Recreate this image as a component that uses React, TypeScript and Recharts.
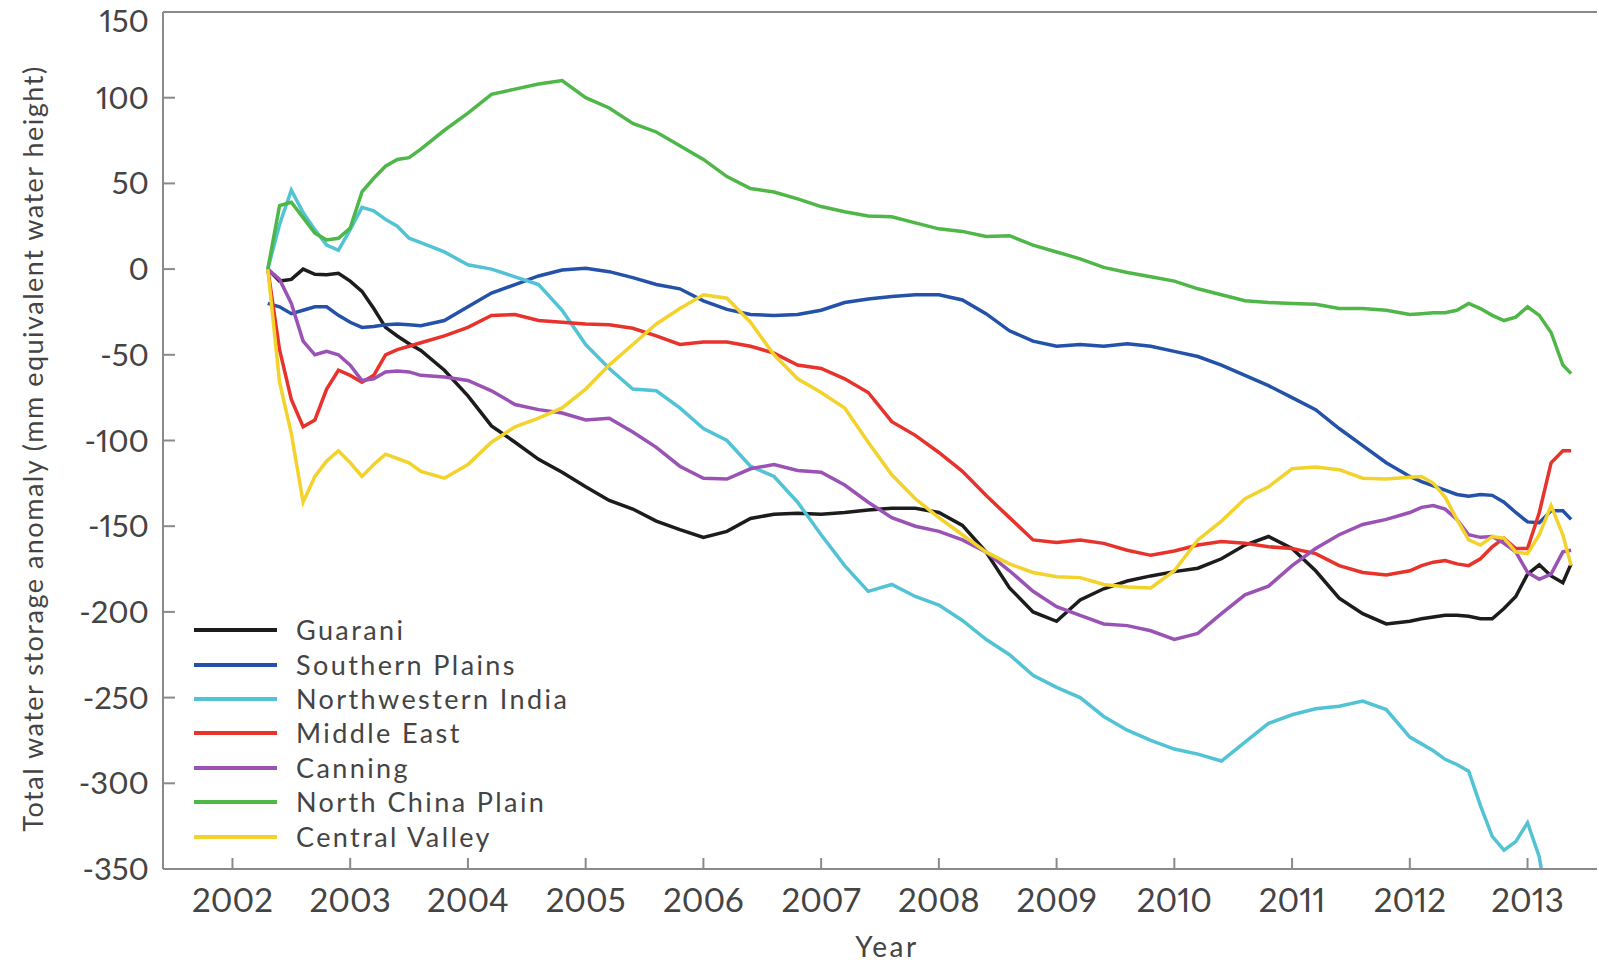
import { LineChart, Line, XAxis, YAxis, ReferenceLine } from "recharts";

// time in decimal years (finer steps where the curves wiggle)
const years = [
  2002.3, 2002.4, 2002.5, 2002.6, 2002.7, 2002.8, 2002.9, 2003.0, 2003.1, 2003.2, 2003.3, 2003.4, 2003.5, 2003.6,
  2003.8, 2004.0, 2004.2, 2004.4, 2004.6, 2004.8,
  2005.0, 2005.2, 2005.4, 2005.6, 2005.8,
  2006.0, 2006.2, 2006.4, 2006.6, 2006.8,
  2007.0, 2007.2, 2007.4, 2007.6, 2007.8,
  2008.0, 2008.2, 2008.4, 2008.6, 2008.8,
  2009.0, 2009.2, 2009.4, 2009.6, 2009.8,
  2010.0, 2010.2, 2010.4, 2010.6, 2010.8,
  2011.0, 2011.2, 2011.4, 2011.6, 2011.8,
  2012.0,
  2012.1, 2012.2, 2012.3, 2012.4, 2012.5, 2012.6, 2012.7, 2012.8, 2012.9, 2013.0, 2013.1, 2013.2, 2013.3, 2013.37,
];

const guarani = [
  0, -7, -6, 0, -3, -3.3, -2.5, -7, -13, -23, -34, -39, -43.5, -47.5,
  -59, -74, -91.5, -101, -111, -118.5,
  -127, -135, -140, -147, -152,
  -156.5, -153, -145.5, -143, -142.5,
  -143, -142, -140.5, -139.5, -139.5,
  -142, -149.5, -165, -186, -200,
  -205.5, -193, -186.5, -182, -179,
  -176.5, -174.5, -169, -161, -156,
  -163, -176, -192, -201, -207,
  -205.5,
  -204, -203, -202, -202, -202.5, -204, -204, -198, -191, -178, -172.5, -179, -183, -172,
];

const southernPlains = [
  -20, -22, -26, -24, -22, -22, -27, -31, -34, -33.5, -32.5, -32, -32.5, -33,
  -30, -22, -14, -9, -4, -0.5,
  0.5, -1.5, -5, -9, -11.5,
  -18.5, -23.5, -26.5, -27, -26.5,
  -24, -19.5, -17.5, -16, -15,
  -15, -18, -26, -36, -42,
  -45, -44, -45, -43.5, -45,
  -48, -51, -56, -62, -68,
  -75, -82, -93, -103, -113,
  -121,
  -124, -126.5, -129, -131.5, -132.5, -131.5, -132, -136, -142, -147.5, -148, -141, -141, -146,
];

const northwesternIndia = [
  0, 26, 46, 33, 23, 14, 11, 23, 36, 34, 29, 25, 18, 15.5,
  10, 2.5, 0, -4.5, -9, -24,
  -44, -58, -70, -71, -81,
  -93, -100, -115, -121, -136,
  -155, -173, -188, -184, -191,
  -196, -205, -216, -225, -237,
  -244, -250, -261, -269, -275,
  -280, -283, -287, -276, -265,
  -260, -256.5, -255, -252, -257,
  -273,
  -277, -281, -286, -289, -293, -313, -331, -339, -334, -323, -343, -385, null, null,
];

const middleEast = [
  0, -47, -76, -92, -88, -70, -59, -62, -66, -62, -50, -47, -45, -43,
  -39, -34, -27, -26.5, -30, -31,
  -32, -32.5, -34.5, -39, -44,
  -42.5, -42.5, -45, -49, -56,
  -58, -64, -72, -89, -97,
  -107, -118, -132, -145, -158,
  -159.5, -158, -160, -164, -167,
  -164.5, -161, -159, -160, -162,
  -163, -166, -173, -177, -178.5,
  -176,
  -173, -171, -170, -172, -173, -169, -162, -157, -163, -163, -142, -113, -106, -106,
];

const canning = [
  0, -6, -20, -42, -50, -48, -50, -56, -65, -64, -60, -59.5, -60, -62,
  -63, -65, -71, -79, -82, -84,
  -88, -87, -95, -104, -115,
  -122, -122.5, -116.5, -114, -117.5,
  -118.5, -126, -136, -145, -150,
  -153, -158, -165, -176, -188,
  -197, -202, -207, -208, -211,
  -216, -212.5, -201, -190, -185,
  -173, -163, -155, -149, -146,
  -142,
  -139, -138, -140, -146, -155, -156.5, -156, -160, -165, -177, -181, -178, -165, -164,
];

const northChinaPlain = [
  0, 37, 39, 30, 21, 17, 18, 24, 45, 53, 60, 64, 65, 70,
  81, 91, 102, 105, 108, 110,
  100, 94, 85, 80, 72,
  64, 54, 47, 45, 41,
  36.5, 33.5, 31, 30.5, 27,
  23.5, 22, 19, 19.5, 14,
  10, 6, 1, -2, -4.5,
  -7, -11.5, -15, -18.5, -19.5,
  -20, -20.5, -23, -23, -24,
  -26.5,
  -26, -25.5, -25.5, -24, -20, -23, -27, -30, -28, -22, -27, -37, -56, -61,
];

const centralValley = [
  0, -66, -96, -136, -121, -112, -106, -113, -121, -114, -108, -110.5, -113, -118,
  -122, -114, -101, -92, -87, -81,
  -70, -56, -44, -32, -23,
  -15, -17, -31, -50, -64,
  -72, -81, -101, -120, -134,
  -145, -155, -165, -172, -177,
  -179.5, -180, -184, -185.5, -186,
  -176, -158, -147, -134, -127,
  -116.5, -115.5, -117, -122, -122.5,
  -121.5,
  -121, -125, -133, -146, -158, -161, -156, -157, -165, -166, -155, -138, -155, -173,
];

const yTicks = [-350, -300, -250, -200, -150, -100, -50, 0, 50, 100, 150];
const xTicks = [2002, 2003, 2004, 2005, 2006, 2007, 2008, 2009, 2010, 2011, 2012, 2013];

const series = [
  { key: "guarani", name: "Guarani", color: "#1c1c1c", values: guarani },
  { key: "southernPlains", name: "Southern Plains", color: "#2352a8", values: southernPlains },
  { key: "nwIndia", name: "Northwestern India", color: "#52c3d4", values: northwesternIndia },
  { key: "middleEast", name: "Middle East", color: "#e8322c", values: middleEast },
  { key: "canning", name: "Canning", color: "#9a52b5", values: canning },
  { key: "northChina", name: "North China Plain", color: "#4fb648", values: northChinaPlain },
  { key: "centralValley", name: "Central Valley", color: "#f3d22c", values: centralValley },
];

const data = years.map((t, i) => {
  const row: any = { t };
  series.forEach((s) => {
    row[s.key] = s.values[i];
  });
  return row;
});

const FONT = "Lato, 'Open Sans', sans-serif";
const AXIS = "#8a8a8a";
const TEXT = "#444444";
const NUMS = { fontVariantNumeric: "proportional-nums" } as any;

const YTick = ({ x, y, payload }: any) => {
  const v = payload.value;
  // the top label sits a little below its tick, as in the original
  const dy = v === 150 ? 20 : 11;
  return (
    <g>
      <line x1={x} x2={x + 12} y1={y} y2={y} stroke={AXIS} strokeWidth={2} />
      <text x={x - 14} y={y} dy={dy} textAnchor="end" fill={TEXT} fontSize={31} fontFamily={FONT} style={NUMS}>
        {v}
      </text>
    </g>
  );
};

const XTick = ({ x, y, payload }: any) => (
  <g>
    <line x1={x} x2={x} y1={y} y2={y - 11} stroke={AXIS} strokeWidth={2} />
    <text x={x} y={y + 43} textAnchor="middle" fill={TEXT} fontSize={33} fontFamily={FONT} style={NUMS}>
      {payload.value}
    </text>
  </g>
);

const YTitle = ({ viewBox }: any) => {
  const cx = viewBox.x + 43;
  const cy = viewBox.y + viewBox.height / 2 + 8;
  return (
    <text
      x={cx}
      y={cy}
      transform={`rotate(-90 ${cx} ${cy})`}
      textAnchor="middle"
      fill={TEXT}
      fontSize={27}
      letterSpacing={1.5}
      fontFamily={FONT}
    >
      Total water storage anomaly (mm equivalent water height)
    </text>
  );
};

const XTitle = ({ viewBox }: any) => (
  <text
    x={viewBox.x + viewBox.width / 2 + 7}
    y={viewBox.y + 88}
    textAnchor="middle"
    fill={TEXT}
    fontSize={28}
    letterSpacing={2.5}
    fontFamily={FONT}
  >
    Year
  </text>
);

export default function App() {
  return (
    <div style={{ position: "absolute", left: 0, top: 0, width: 1599, height: 962, background: "#fff" }}>
      <LineChart width={1599} height={962} data={data} margin={{ top: 12, right: 2, bottom: 0, left: 0 }}>
        <ReferenceLine y={150} stroke={AXIS} strokeWidth={2} />
        <XAxis
          dataKey="t"
          type="number"
          domain={[2001.41, 2013.59]}
          ticks={xTicks}
          allowDataOverflow
          height={93}
          tickSize={0}
          tickMargin={0}
          tick={<XTick />}
          axisLine={{ stroke: AXIS, strokeWidth: 2 }}
          label={{ content: <XTitle /> }}
        />
        <YAxis
          type="number"
          domain={[-350, 150]}
          ticks={yTicks}
          allowDataOverflow
          width={163}
          tickSize={0}
          tickMargin={0}
          tick={<YTick />}
          axisLine={{ stroke: AXIS, strokeWidth: 2 }}
          label={{ content: <YTitle /> }}
        />
        {series.map((s) => (
          <Line
            key={s.key}
            dataKey={s.key}
            name={s.name}
            type="linear"
            stroke={s.color}
            strokeWidth={3.5}
            dot={false}
            isAnimationActive={false}
          />
        ))}
      </LineChart>
      <div
        style={{
          position: "absolute",
          left: 194,
          top: 613,
          fontFamily: FONT,
          fontSize: 27,
          letterSpacing: 2.4,
          color: TEXT,
        }}
      >
        {series.map((s) => (
          <div key={s.key} style={{ display: "flex", alignItems: "center", height: 34.4 }}>
            <svg width={83} height={8} style={{ display: "block" }}>
              <line x1={0} x2={83} y1={4} y2={4} stroke={s.color} strokeWidth={4} />
            </svg>
            <span style={{ marginLeft: 19, lineHeight: "34px" }}>{s.name}</span>
          </div>
        ))}
      </div>
    </div>
  );
}
